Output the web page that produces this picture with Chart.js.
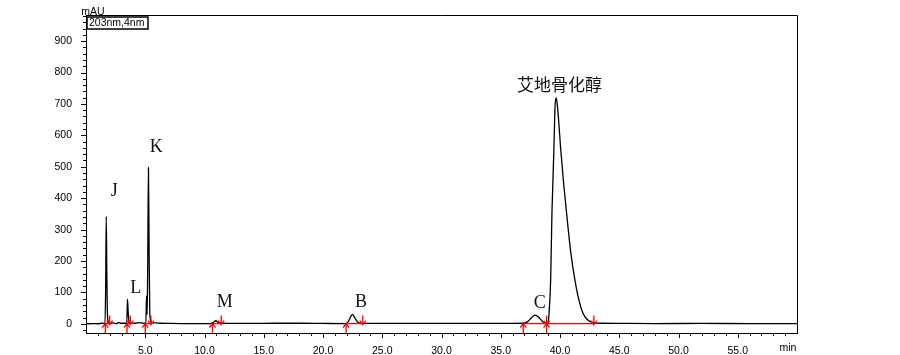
<!DOCTYPE html>
<html>
<head>
<meta charset="utf-8">
<script src="https://cdn.jsdelivr.net/npm/chart.js@4"></script>
<style>
  html, body { margin: 0; padding: 0; background: #fff; }
</style>
</head>
<body>
<canvas id="chart" width="900" height="355"></canvas>
<script>
// trace (time in min, signal in mAU)
var times = [
  0, 0.5, 1.0, 1.3, 1.6,
  1.66, 1.71, 1.76, 1.82, 1.9, 2.05,
  2.3, 2.6, 2.75, 2.9, 3.2,
  3.44, 3.5, 3.55, 3.62, 3.72,
  3.9, 4.2, 4.5, 4.8,
  5.05, 5.11, 5.16, 5.21, 5.27, 5.32, 5.38, 5.46,
  5.6, 5.9, 6.3, 7, 8, 9,
  10.5, 10.75, 10.95, 11.15, 11.4,
  12, 14, 16, 18, 20,
  21.9, 22.15, 22.35, 22.5, 22.7, 22.95, 23.3,
  24, 26, 28, 30, 32, 34, 36,
  36.9, 37.3, 37.6, 37.9, 38.2, 38.55, 38.85,
  38.98, 39.08, 39.21, 39.32, 39.49, 39.58, 39.66, 39.76, 39.9,
  40.05, 40.3, 40.56, 40.9, 41.26, 41.6, 41.93, 42.3, 42.8,
  43.5, 45, 48, 52, 56, 60
]
var signal = [
  0, 1, 0.5, 2, 1,
  120, 342, 150, 20, 5, 2,
  3, 1, 5, 2, 2,
  2, 79, 45, 10, 5,
  3, 2, 4, 2,
  3, 90, 30, 200, 498, 260, 40, 10,
  4, 3, 2, 1.5, 1, 1,
  1, 5, 10, 5, 2,
  1.5, 1.5, 2, 2, 1.5,
  1, 8, 24, 30, 18, 5, 1.5,
  1.5, 1.5, 1.5, 1.5, 1.5, 1.5, 1.5,
  2, 8, 20, 28, 21, 7, 3,
  5, 35, 139, 351, 561, 690, 719, 702, 640,
  561, 450, 351, 230, 139, 75, 35, 14, 4,
  2, 1.5, 1, 1.5, 1, 1
]

// peak names and where their labels sit
var peakNames = ['J', 'L', 'K', 'M', 'B', 'C', '艾地骨化醇']
var labelTimes = [2.39, 4.2, 5.93, 11.7, 23.21, 38.3, 39.95]
var labelValues = [422, 113, 562, 70, 70, 67, 761]

// integration start / end marks
var peakStarts = [1.63, 3.46, 5.0, 10.68, 21.95, 36.9, 38.87]
var peakEnds = [1.99, 3.74, 5.48, 11.41, 23.36, 38.87, 42.86]

var xTicks = [5, 10, 15, 20, 25, 30, 35, 40, 45, 50, 55, 60]
var yTicks = [0, 100, 200, 300, 400, 500, 600, 700, 800, 900]

var points = times.map(function (t, i) { return { x: t, y: signal[i] } })

var sansFont = '"Liberation Sans", Arial, sans-serif'

var extras = {
  id: 'extras',
  afterDatasetsDraw: function (chart) {
    var ctx = chart.ctx
    var xs = chart.scales.x
    var ys = chart.scales.y
    var area = chart.chartArea
    ctx.save()

    // top and right frame
    ctx.strokeStyle = '#000'
    ctx.lineWidth = 1
    ctx.beginPath()
    ctx.moveTo(area.left, area.top + 0.5)
    ctx.lineTo(area.right + 0.5, area.top + 0.5)
    ctx.lineTo(area.right + 0.5, area.bottom)
    ctx.stroke()

    // minor / major ticks
    ctx.beginPath()
    for (var m = 1; m < 60; m++) {
      var px = Math.round(xs.getPixelForValue(m)) + 0.5
      ctx.moveTo(px, area.bottom)
      ctx.lineTo(px, area.bottom + (m % 5 === 0 ? 5 : 3))
    }
    for (var v = -20; v <= 980; v += 20) {
      var py = Math.round(ys.getPixelForValue(v)) + 0.5
      ctx.moveTo(area.left, py)
      ctx.lineTo(area.left - (v % 100 === 0 ? 5 : 3), py)
    }
    ctx.stroke()

    // integration baselines and arrows
    var base = ys.getPixelForValue(1)
    ctx.strokeStyle = '#ff0000'
    ctx.lineWidth = 1.3
    for (var i = 0; i < peakStarts.length; i++) {
      ctx.beginPath()
      ctx.moveTo(xs.getPixelForValue(peakStarts[i]), base)
      ctx.lineTo(xs.getPixelForValue(peakEnds[i]), base)
      ctx.stroke()
    }
    function arrow(x, y0, y1) {
      var d = y1 > y0 ? -1 : 1
      ctx.beginPath()
      ctx.moveTo(x, y0)
      ctx.lineTo(x, y1)
      ctx.moveTo(x - 3, y1 + d * 4)
      ctx.lineTo(x, y1)
      ctx.lineTo(x + 3, y1 + d * 4)
      ctx.stroke()
    }
    peakStarts.forEach(function (t) {
      arrow(xs.getPixelForValue(t), base + 10, base)
    })
    peakEnds.forEach(function (t) {
      arrow(xs.getPixelForValue(t), base - 8, base + 1)
    })

    // peak labels
    ctx.fillStyle = '#111'
    ctx.textAlign = 'center'
    ctx.textBaseline = 'middle'
    peakNames.forEach(function (name, i) {
      ctx.font = name.length > 1 ? '17px "Noto Sans CJK SC"' : '18px "Liberation Serif", "Times New Roman", serif'
      ctx.fillText(name, xs.getPixelForValue(labelTimes[i]), ys.getPixelForValue(labelValues[i]))
    })

    // unit labels and detector box
    ctx.fillStyle = '#000'
    ctx.font = '10.5px ' + sansFont
    ctx.textBaseline = 'alphabetic'
    ctx.fillText('mAU', area.left + 7, area.top - 0.5)
    ctx.textBaseline = 'middle'
    ctx.fillText('min', area.right - 9, area.bottom + 15)
    ctx.fillStyle = '#fff'
    ctx.fillRect(area.left + 1, area.top + 2, 61, 12)
    ctx.strokeStyle = '#000'
    ctx.lineWidth = 1.5
    ctx.strokeRect(area.left + 1, area.top + 2, 61, 12)
    ctx.fillStyle = '#000'
    ctx.textAlign = 'left'
    ctx.fillText('203nm,4nm', area.left + 3, area.top + 8.5)

    ctx.restore()
  }
}

new Chart(document.getElementById('chart'), {
  type: 'line',
  data: {
    datasets: [{
      data: points,
      borderColor: '#000',
      borderWidth: 1.3,
      pointRadius: 0,
      fill: false,
      cubicInterpolationMode: 'monotone'
    }]
  },
  options: {
    responsive: false,
    animation: false,
    layout: { padding: { top: 15, right: 103, left: 0, bottom: 0 } },
    plugins: { legend: { display: false }, tooltip: { enabled: false } },
    scales: {
      x: {
        type: 'linear',
        min: 0,
        max: 60,
        afterBuildTicks: function (axis) { axis.ticks = xTicks.map(function (v) { return { value: v } }) },
        afterFit: function (axis) { axis.height = 22 },
        grid: { display: false },
        border: { color: '#000', width: 1 },
        ticks: {
          autoSkip: false,
          maxRotation: 0,
          padding: 4,
          color: '#000',
          font: { family: sansFont, size: 10.5 },
          callback: function (v) { return v === 60 ? '' : Number(v).toFixed(1) }
        }
      },
      y: {
        min: -29,
        max: 983,
        afterBuildTicks: function (axis) { axis.ticks = yTicks.map(function (v) { return { value: v } }) },
        afterFit: function (axis) { axis.width = 86 },
        grid: { display: false },
        border: { color: '#000', width: 1 },
        ticks: {
          padding: 6,
          color: '#000',
          font: { family: sansFont, size: 10.5 }
        }
      }
    }
  },
  plugins: [extras]
})
</script>
</body>
</html>
